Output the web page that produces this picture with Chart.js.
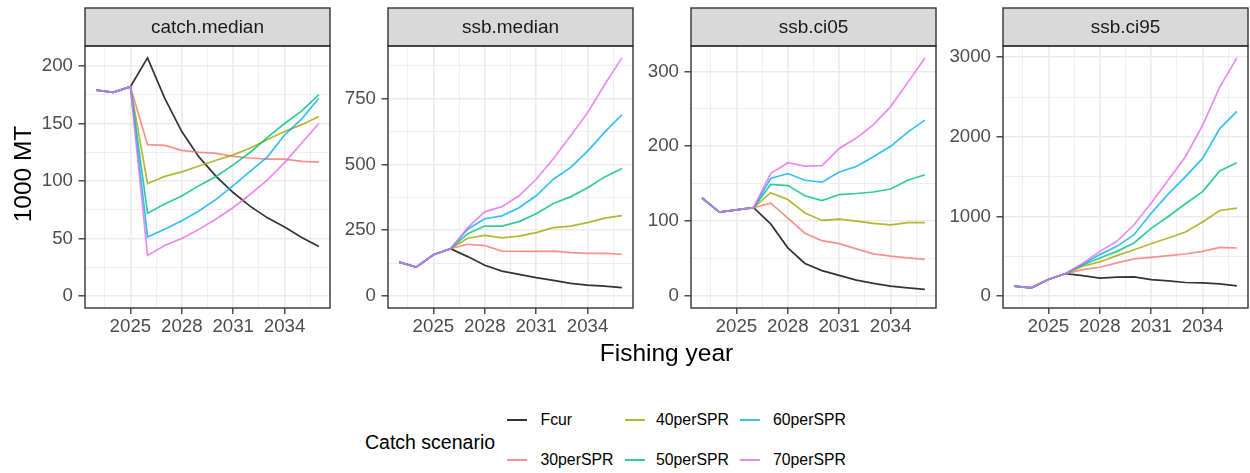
<!DOCTYPE html>
<html>
<head>
<meta charset="utf-8">
<script src="https://cdn.jsdelivr.net/npm/chart.js@4/dist/chart.umd.min.js"></script>
<style>
  html, body { margin: 0; padding: 0; background: #ffffff; }
  body { width: 1250px; height: 473px; position: relative; overflow: hidden;
         font-family: "Liberation Sans", Arial, sans-serif; }
  canvas.panel { position: absolute; top: 0; }
  .txt { position: absolute; white-space: nowrap; color: #000000; }
</style>
</head>
<body>
<canvas class="panel" id="p0"></canvas>
<canvas class="panel" id="p1"></canvas>
<canvas class="panel" id="p2"></canvas>
<canvas class="panel" id="p3"></canvas>
<div id="overlay"></div>
<script>
// ---- data ----
const years = [2023, 2024, 2025, 2026, 2027, 2028, 2029, 2030, 2031, 2032, 2033, 2034, 2035, 2036];
const scenarioNames = ['Fcur', '30perSPR', '40perSPR', '50perSPR', '60perSPR', '70perSPR'];
const scenarioColors = ['#000000', '#F8766D', '#A3A500', '#00BF7D', '#00B0F6', '#E76BF3'];
const yearTicks = [2025, 2028, 2031, 2034];
const panelTitles = ['catch.median', 'ssb.median', 'ssb.ci05', 'ssb.ci95'];

// catch.median (1000 MT)
const catchFcur = [179, 177, 182, 207, 172, 143, 121, 104, 90, 78, 68, 60, 51, 43];
const catch30   = [179, 177, 182, 131.6, 131, 126.7, 125, 124, 121.5, 120, 119, 119, 117, 116.4];
const catch40   = [179, 177, 182, 97.7, 104, 108, 113, 118, 122.7, 128.7, 136, 143, 149, 156];
const catch50   = [179, 177, 182, 72, 80, 87, 96, 104, 114, 125, 138, 150, 161, 175];
const catch60   = [179, 177, 182, 51.4, 58, 65.5, 74, 84, 96, 108.6, 121, 140, 154, 172];
const catch70   = [179, 177, 182, 35.3, 44, 50, 58, 67, 77, 88.5, 101, 116, 133, 150];
const catchTicks = [0, 50, 100, 150, 200];

// ssb.median
const ssbMedFcur = [129, 110, 157, 180, 150, 117, 95, 82.5, 70, 60, 48, 42, 38, 32];
const ssbMed30   = [129, 110, 157, 180, 197, 192, 171, 170, 170, 171, 165, 162, 162, 159];
const ssbMed40   = [129, 110, 157, 180, 220, 231, 221, 228, 241, 260, 266, 279, 296, 306];
const ssbMed50   = [129, 110, 157, 180, 237, 266, 266, 283, 313, 352, 377, 412, 453, 485];
const ssbMed60   = [129, 110, 157, 180, 254, 294, 305, 336, 381, 444, 488, 551, 623, 689];
const ssbMed70   = [129, 110, 157, 180, 260, 320, 340, 381, 444, 522, 608, 697, 804, 905];
const ssbMedTicks = [0, 250, 500, 750];

// ssb.ci05
const ci05Fcur = [131, 112, 115, 118, 96.4, 64.4, 43.6, 34, 27.6, 21.3, 17, 13.3, 11, 9];
const ci05_30  = [131, 112, 115, 118, 124, 104, 84, 74, 70, 63, 56.4, 53.3, 51, 49];
const ci05_40  = [131, 112, 115, 118, 138, 129, 111, 101, 102.7, 100, 97, 95, 98, 98];
const ci05_50  = [131, 112, 115, 118, 149, 147.6, 134, 127.6, 135.6, 137, 139, 143, 154.7, 162];
const ci05_60  = [131, 112, 115, 118, 157, 163.6, 154.7, 152, 165.8, 173, 186, 200, 219, 235];
const ci05_70  = [131, 112, 115, 118, 163.6, 178, 173.5, 174.3, 197, 211, 229, 253, 285, 318];
const ci05Ticks = [0, 100, 200, 300];

// ssb.ci95
const ci95Fcur = [125, 104, 208, 283, 258, 225, 237, 242, 208, 192, 171, 167, 154, 129];
const ci95_30  = [125, 104, 208, 283, 333, 362, 417, 467, 487, 508, 529, 562, 612, 604];
const ci95_40  = [125, 104, 208, 283, 375, 429, 508, 583, 658, 729, 804, 930, 1075, 1105];
const ci95_50  = [125, 104, 208, 283, 390, 479, 562, 667, 850, 1000, 1160, 1313, 1571, 1675];
const ci95_60  = [125, 104, 208, 283, 400, 521, 625, 771, 1040, 1283, 1500, 1729, 2104, 2321];
const ci95_70  = [125, 104, 208, 283, 410, 562, 688, 896, 1170, 1458, 1750, 2146, 2625, 2992];
const ci95Ticks = [0, 1000, 2000, 3000];

// ---- layout ----
const FONT = '"Liberation Sans", Arial, sans-serif';
const CANVAS_H = 340;
const STRIP_TOP = 8;
const AREA_TOP = 46;
const AREA_BOTTOM = 308;
const AXIS_W = 70;
const PANEL_W = 245;
const panelLefts = [85, 388, 691, 1003];

const panelSeries = [
  [catchFcur, catch30, catch40, catch50, catch60, catch70],
  [ssbMedFcur, ssbMed30, ssbMed40, ssbMed50, ssbMed60, ssbMed70],
  [ci05Fcur, ci05_30, ci05_40, ci05_50, ci05_60, ci05_70],
  [ci95Fcur, ci95_30, ci95_40, ci95_50, ci95_60, ci95_70]
];
const panelTicks = [catchTicks, ssbMedTicks, ci05Ticks, ci95Ticks];

function rgba(hex, a) {
  const n = parseInt(hex.slice(1), 16);
  return `rgba(${(n >> 16) & 255},${(n >> 8) & 255},${n & 255},${a})`;
}

// major breaks plus minor breaks halfway between them, kept inside the range
function withMinor(majors, lo, hi) {
  const step = majors[1] - majors[0];
  const out = [];
  const first = majors[0] - step / 2;
  if (first >= lo) out.push(first);
  majors.forEach(m => {
    if (m >= lo && m <= hi) out.push(m);
    const mid = m + step / 2;
    if (mid >= lo && mid <= hi) out.push(mid);
  });
  return out;
}

// x range: data span padded by 5% on each side
const xSpan = years[years.length - 1] - years[0];
const xMin = years[0] - 0.05 * xSpan;
const xMax = years[years.length - 1] + 0.05 * xSpan;
const xTickValues = withMinor(yearTicks, xMin, xMax);

// facet strip and panel frame
const facetPlugin = {
  id: 'facet',
  afterDraw(chart, args, opts) {
    const { ctx, chartArea: a } = chart;
    ctx.save();
    ctx.fillStyle = '#d9d9d9';
    ctx.fillRect(a.left, STRIP_TOP, a.right - a.left, a.top - STRIP_TOP);
    ctx.strokeStyle = '#333333';
    ctx.lineWidth = 1.4;
    ctx.strokeRect(a.left, STRIP_TOP, a.right - a.left, a.top - STRIP_TOP);
    ctx.strokeRect(a.left, a.top, a.right - a.left, a.bottom - a.top);
    ctx.fillStyle = '#1a1a1a';
    ctx.font = '19px ' + FONT;
    ctx.textAlign = 'center';
    ctx.textBaseline = 'middle';
    ctx.fillText(opts.text, (a.left + a.right) / 2, (STRIP_TOP + a.top) / 2 + 1);
    ctx.restore();
  }
};

panelTitles.forEach((title, p) => {
  const canvas = document.getElementById('p' + p);
  const w = AXIS_W + PANEL_W + 2;
  canvas.width = w;
  canvas.height = CANVAS_H;
  canvas.style.width = w + 'px';
  canvas.style.height = CANVAS_H + 'px';
  canvas.style.left = (panelLefts[p] - AXIS_W) + 'px';

  const series = panelSeries[p];
  const majors = panelTicks[p];
  const dataMax = Math.max(...series.map(s => Math.max(...s)));
  const yMin = -0.05 * dataMax;
  const yMax = dataMax * 1.05;
  const yTickValues = withMinor(majors, yMin, yMax);

  // Fcur is drawn first (bottom), 70perSPR last (top)
  const datasets = series.map((vals, i) => ({
    label: scenarioNames[i],
    data: years.map((yr, k) => ({ x: yr, y: vals[k] })),
    borderColor: rgba(scenarioColors[i], 0.8),
    backgroundColor: rgba(scenarioColors[i], 0.8),
    borderWidth: 1.7,
    pointRadius: 0,
    tension: 0,
    fill: false,
    order: series.length - 1 - i
  }));

  const isMajorX = v => yearTicks.includes(v);
  const isMajorY = v => majors.includes(v);

  new Chart(canvas, {
    type: 'line',
    data: { datasets },
    plugins: [facetPlugin],
    options: {
      responsive: false,
      animation: false,
      devicePixelRatio: 1,
      layout: { padding: { top: AREA_TOP, right: 2, left: 0, bottom: 0 } },
      plugins: {
        legend: { display: false },
        tooltip: { enabled: false },
        facet: { text: title }
      },
      scales: {
        x: {
          type: 'linear',
          min: xMin,
          max: xMax,
          afterBuildTicks: s => { s.ticks = xTickValues.map(v => ({ value: v })); },
          afterFit: s => { s.height = CANVAS_H - AREA_BOTTOM; },
          border: { display: false },
          grid: {
            color: '#ebebeb',
            lineWidth: c => (c.tick && isMajorX(c.tick.value) ? 1.6 : 0.8),
            drawTicks: true,
            tickLength: 6,
            tickWidth: 1.3,
            tickColor: c => (c.tick && isMajorX(c.tick.value) ? '#333333' : 'rgba(0,0,0,0)')
          },
          ticks: {
            autoSkip: false,
            maxRotation: 0,
            padding: 2,
            color: '#4d4d4d',
            font: { family: FONT, size: 18.7 },
            callback: v => (isMajorX(v) ? String(v) : '')
          }
        },
        y: {
          type: 'linear',
          min: yMin,
          max: yMax,
          afterBuildTicks: s => { s.ticks = yTickValues.map(v => ({ value: v })); },
          afterFit: s => { s.width = AXIS_W; },
          border: { display: false },
          grid: {
            color: '#ebebeb',
            lineWidth: c => (c.tick && isMajorY(c.tick.value) ? 1.6 : 0.8),
            drawTicks: true,
            tickLength: 6.5,
            tickWidth: 1.3,
            tickColor: c => (c.tick && isMajorY(c.tick.value) ? '#333333' : 'rgba(0,0,0,0)')
          },
          ticks: {
            autoSkip: false,
            padding: 5.5,
            color: '#4d4d4d',
            font: { family: FONT, size: 18.7 },
            callback: v => (isMajorY(v) ? String(v) : '')
          }
        }
      }
    }
  });
});

// ---- axis titles and legend ----
const overlay = document.getElementById('overlay');
function addText(text, left, top, size, extra) {
  const d = document.createElement('div');
  d.className = 'txt';
  d.textContent = text;
  d.style.left = left + 'px';
  d.style.top = top + 'px';
  d.style.fontSize = size + 'px';
  d.style.lineHeight = Math.round(size * 1.15) + 'px';
  if (extra) Object.assign(d.style, extra);
  overlay.appendChild(d);
  return d;
}

// y title, rotated
addText('1000 MT', 22.5 - 100, 174 - 14, 24.5,
  { width: '200px', textAlign: 'center', transform: 'rotate(-90deg)', lineHeight: '28px' });
// x title, centred under the panels
const panelsMid = (panelLefts[0] + panelLefts[3] + PANEL_W) / 2;
addText('Fishing year', panelsMid - 150, 353 - 14, 24.5,
  { width: '300px', textAlign: 'center', lineHeight: '28px' });

// legend
addText('Catch scenario', 365, 442 - 12, 19.5, { lineHeight: '24px' });
const keyX = [506.5, 625, 740];
const labelX = [540.5, 656, 773];
const rowY = [420, 460];
scenarioNames.forEach((name, i) => {
  const col = Math.floor(i / 2), row = i % 2;
  const key = document.createElement('div');
  key.style.position = 'absolute';
  key.style.left = keyX[col] + 'px';
  key.style.top = (rowY[row] - 0.85) + 'px';
  key.style.width = '20px';
  key.style.height = '1.7px';
  key.style.background = rgba(scenarioColors[i], 0.8);
  overlay.appendChild(key);
  addText(name, labelX[col], rowY[row] - 10, 15.8, { lineHeight: '20px' });
});
</script>
</body>
</html>
